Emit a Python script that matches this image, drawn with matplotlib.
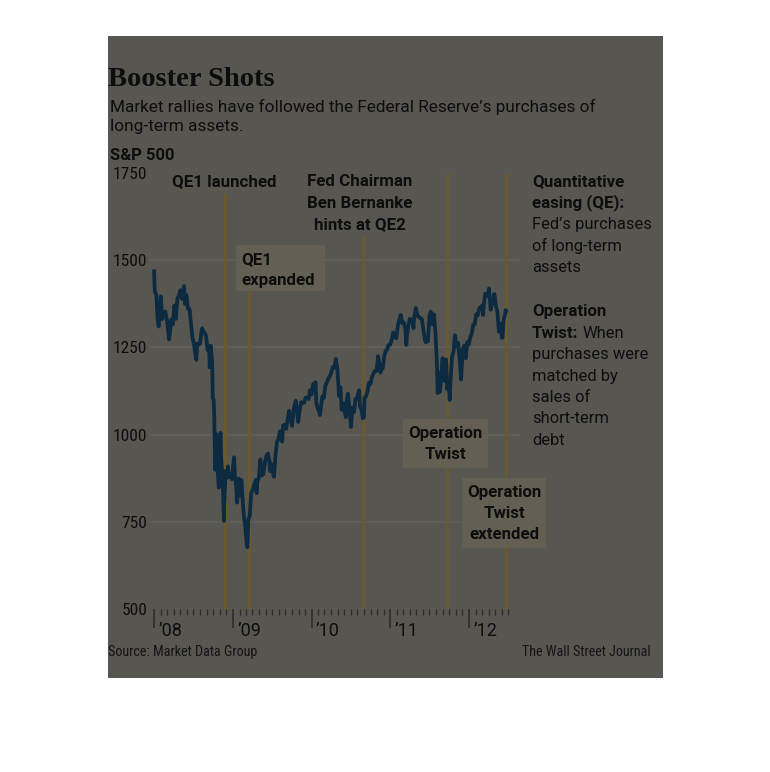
import matplotlib
matplotlib.use("Agg")
import matplotlib.pyplot as plt
from matplotlib.patches import Rectangle
from matplotlib import font_manager
import pandas as pd
import numpy as np

# ---------------- data ----------------
dates = [
"2008-01-01","2008-01-04","2008-01-11","2008-01-18","2008-01-22","2008-01-25","2008-02-01","2008-02-08","2008-02-15","2008-02-22","2008-02-29",
"2008-03-07","2008-03-10","2008-03-14","2008-03-20","2008-03-28","2008-04-04","2008-04-11","2008-04-18","2008-04-25","2008-05-02","2008-05-09",
"2008-05-19","2008-05-23","2008-05-30","2008-06-06","2008-06-13","2008-06-20","2008-06-27","2008-07-03","2008-07-15","2008-07-18","2008-07-25",
"2008-08-01","2008-08-08","2008-08-11","2008-08-15","2008-08-22","2008-08-29","2008-09-05","2008-09-12","2008-09-15","2008-09-19","2008-09-26",
"2008-09-29","2008-10-03","2008-10-06","2008-10-10","2008-10-13","2008-10-17","2008-10-24","2008-10-27","2008-10-31","2008-11-04","2008-11-07",
"2008-11-14","2008-11-20","2008-11-21","2008-11-28","2008-12-05","2008-12-08","2008-12-12","2008-12-19","2008-12-26",
"2009-01-06","2009-01-09","2009-01-16","2009-01-20","2009-01-23","2009-01-28","2009-01-30","2009-02-06","2009-02-09","2009-02-13","2009-02-20",
"2009-02-27","2009-03-06","2009-03-09","2009-03-13","2009-03-20","2009-03-26","2009-04-03","2009-04-09","2009-04-17","2009-04-20","2009-04-24",
"2009-05-01","2009-05-08","2009-05-15","2009-05-22","2009-05-29","2009-06-05","2009-06-12","2009-06-19","2009-06-23","2009-06-26","2009-07-02",
"2009-07-10","2009-07-17","2009-07-24","2009-07-31","2009-08-07","2009-08-14","2009-08-17","2009-08-21","2009-08-28","2009-09-04","2009-09-11",
"2009-09-18","2009-09-25","2009-10-02","2009-10-09","2009-10-19","2009-10-23","2009-10-30","2009-11-06","2009-11-13","2009-11-20","2009-11-27",
"2009-12-04","2009-12-11","2009-12-18","2009-12-24","2009-12-31",
"2010-01-08","2010-01-19","2010-01-22","2010-01-29","2010-02-05","2010-02-08","2010-02-12","2010-02-19","2010-02-26","2010-03-05","2010-03-12",
"2010-03-19","2010-03-26","2010-04-02","2010-04-09","2010-04-16","2010-04-23","2010-04-30","2010-05-06","2010-05-07","2010-05-14","2010-05-20",
"2010-05-21","2010-05-28","2010-06-04","2010-06-08","2010-06-11","2010-06-18","2010-06-25","2010-07-02","2010-07-09","2010-07-16","2010-07-23",
"2010-07-30","2010-08-06","2010-08-09","2010-08-13","2010-08-20","2010-08-26","2010-08-31","2010-09-03","2010-09-10","2010-09-17","2010-09-24",
"2010-10-01","2010-10-08","2010-10-15","2010-10-22","2010-10-29","2010-11-05","2010-11-12","2010-11-16","2010-11-19","2010-11-26","2010-12-03",
"2010-12-10","2010-12-17","2010-12-23","2010-12-31",
"2011-01-07","2011-01-14","2011-01-21","2011-01-28","2011-02-04","2011-02-11","2011-02-18","2011-02-25","2011-03-04","2011-03-11","2011-03-16",
"2011-03-18","2011-03-25","2011-04-01","2011-04-08","2011-04-15","2011-04-18","2011-04-21","2011-04-29","2011-05-06","2011-05-13","2011-05-20",
"2011-05-27","2011-06-03","2011-06-10","2011-06-15","2011-06-17","2011-06-24","2011-07-01","2011-07-07","2011-07-15","2011-07-22","2011-07-29",
"2011-08-05","2011-08-08","2011-08-10","2011-08-12","2011-08-19","2011-08-26","2011-08-31","2011-09-02","2011-09-09","2011-09-16","2011-09-22",
"2011-09-23","2011-09-30","2011-10-03","2011-10-07","2011-10-14","2011-10-21","2011-10-27","2011-11-04","2011-11-11","2011-11-18","2011-11-25",
"2011-12-02","2011-12-09","2011-12-16","2011-12-23","2011-12-30",
"2012-01-06","2012-01-13","2012-01-20","2012-01-27","2012-02-03","2012-02-10","2012-02-17","2012-02-24","2012-03-02","2012-03-06","2012-03-09",
"2012-03-16","2012-03-23","2012-03-30","2012-04-02","2012-04-10","2012-04-13","2012-04-20","2012-04-27","2012-05-04","2012-05-11","2012-05-18",
"2012-05-25","2012-06-01","2012-06-04","2012-06-08","2012-06-15","2012-06-19","2012-06-20",
]
sp500 = [
1468,1411,1401,1325,1310,1331,1396,1331,1350,1353,1331,
1294,1273,1288,1330,1316,1370,1332,1390,1398,1414,1389,
1426,1375,1400,1361,1360,1318,1278,1262,1214,1261,1257,
1261,1296,1305,1298,1292,1283,1242,1252,1193,1255,1213,
1106,1099,1056,899,1003,940,877,848,968,1005,930,
873,752,800,896,876,909,879,887,872,
935,890,850,805,832,874,826,869,870,827,770,
735,683,677,756,768,833,843,857,870,832,866,
877,929,883,887,919,940,946,921,895,918,896,
879,940,979,987,1010,1005,980,1026,1029,1016,1042,
1068,1044,1025,1072,1097,1080,1036,1069,1093,1091,1091,
1106,1106,1102,1127,1115,
1145,1150,1092,1074,1066,1056,1075,1109,1105,1139,1150,
1160,1167,1179,1194,1192,1217,1187,1128,1111,1136,1071,
1088,1089,1064,1050,1092,1117,1076,1022,1078,1065,1102,
1102,1122,1127,1079,1071,1047,1049,1105,1110,1125,1149,
1146,1166,1176,1183,1183,1225,1199,1178,1199,1189,1225,
1240,1244,1257,1258,
1271,1293,1283,1276,1310,1329,1343,1320,1321,1304,1257,
1279,1313,1332,1328,1320,1305,1337,1363,1340,1338,1333,
1331,1300,1271,1265,1271,1268,1339,1353,1316,1345,1292,
1199,1119,1121,1178,1123,1176,1219,1174,1154,1216,1130,
1136,1131,1099,1155,1224,1238,1285,1253,1263,1216,1158,
1244,1255,1219,1265,1258,
1278,1289,1315,1316,1345,1342,1361,1366,1370,1343,1371,
1404,1397,1408,1419,1358,1370,1378,1403,1369,1353,1295,
1318,1278,1278,1325,1343,1357,1355,
]

y_ticks = [500, 750, 1000, 1250, 1500, 1750]
grid_values = [750, 1000, 1250, 1500]
year_ticks = ["2008-01-01", "2009-01-01", "2010-01-01", "2011-01-01", "2012-01-01"]
year_labels = ["\u201908", "\u201909", "\u201910", "\u201911", "\u201912"]

event_dates = ["2008-11-25", "2009-03-18", "2010-08-27", "2011-09-21", "2012-06-20"]
event_tops = [1693, 1409, 1572, 1750, 1750]

title = "Booster Shots"
subtitle = ["Market rallies have followed the Federal Reserve\u2019s purchases of",
            "long-term assets."]

# ---------------- fonts ----------------
available = {f.name for f in font_manager.fontManager.ttflist}
def pick(*names):
    for n in names:
        if n in available:
            return n
    return "DejaVu Sans"

SANS = pick("Liberation Sans Narrow", "Roboto Condensed", "Roboto", "DejaVu Sans")
SANSB = pick("Roboto", "Open Sans", "DejaVu Sans")
SERIF = pick("Liberation Serif", "DejaVu Serif")

BG = "#585651"
BOXC = "#636053"
EVC = "#6b5a2c"
LINEC = "#0c2a40"
GRIDC = "#61605d"
TXT = "#0d0d0d"

W, H = 770, 772
fig = plt.figure(figsize=(W / 100, H / 100), dpi=100)
fig.patch.set_facecolor("white")

def fx(x): return x / W
def fy(y): return 1 - y / H

fig.patches.append(Rectangle((fx(108), fy(678)), fx(663) - fx(108), fy(36) - fy(678),
                             transform=fig.transFigure, facecolor=BG, edgecolor="none", zorder=-5))

ax = fig.add_axes([fx(150), fy(609), fx(520) - fx(150), fy(173) - fy(609)])
ax.set_facecolor("none")
for s in ax.spines.values():
    s.set_visible(False)

d = pd.to_datetime(dates)
ax.set_xlim(pd.Timestamp("2007-12-13"), pd.Timestamp("2012-08-24"))
ax.set_ylim(500, 1750)

for v in grid_values:
    ax.axhline(v, color=GRIDC, lw=1.2, zorder=1)

for ed, top in zip(event_dates, event_tops):
    ax.plot([pd.Timestamp(ed)] * 2, [500, top], color=EVC, lw=2.0, zorder=2, solid_capstyle="butt")

ax.plot(d, sp500, color=LINEC, lw=2.7, zorder=3, solid_joinstyle="round")

ax.set_yticks(y_ticks)
ax.set_yticklabels([str(v) for v in y_ticks], fontsize=12.5, family=SANS, color=TXT)
ax.tick_params(axis="y", length=0, pad=2)

ax.set_xticks(pd.to_datetime(year_ticks))
minor = pd.date_range("2008-02-01", "2012-07-01", freq="MS")
minor = [m for m in minor if m.month != 1]
ax.set_xticks(minor, minor=True)
ax.set_xticklabels([])
ax.tick_params(axis="x", which="major", length=14, width=1.2, color="#2e2e2e", direction="out")
ax.tick_params(axis="x", which="minor", length=4.5, width=1.0, color="#2e2e2e", direction="out")
for yt, lab in zip(year_ticks, year_labels):
    ax.annotate(lab, xy=(pd.Timestamp(yt), 0), xycoords=("data", "axes fraction"),
                xytext=(3, -9), textcoords="offset points", ha="left", va="top",
                fontsize=13, family=SANSB, color=TXT)

# ---------------- texts ----------------
def t(x, y, s, **kw):
    kw.setdefault("color", TXT)
    kw.setdefault("va", "baseline")
    return fig.text(fx(x), fy(y), s, **kw)

t(108, 86, title, family=SERIF, fontsize=20.5, weight="bold")
t(110, 112, subtitle[0], family=SANSB, fontsize=12.4)
t(110, 131, subtitle[1], family=SANSB, fontsize=12.4)
t(110, 160, "S&P 500", family=SANSB, fontsize=12, weight="bold")

BS = 12.2
RS = 11.9
t(224, 186, "QE1 launched", family=SANSB, fontsize=BS, weight="bold", ha="center")
for i, s in enumerate(["Fed Chairman", "Ben Bernanke", "hints at QE2"]):
    t(360, 186 + i * 21.5, s, family=SANSB, fontsize=BS, weight="bold", ha="center")

right = [("Quantitative", "bold"), ("easing (QE):", "bold"), ("Fed\u2019s purchases", "normal"),
         ("of long-term", "normal"), ("assets", "normal")]
for i, (s, w) in enumerate(right):
    t(532, 186 + i * 21.5, s, family=SANSB, fontsize=BS if w == "bold" else RS, weight=w)
t(532, 316, "Operation", family=SANSB, fontsize=BS, weight="bold")
tw = t(532, 337.5, "Twist:", family=SANSB, fontsize=BS, weight="bold")
fig.canvas.draw()
bb = tw.get_window_extent()
fig.text(bb.x1 / W + 4 / W, fy(337.5), "When", family=SANSB, fontsize=RS, color=TXT, va="baseline")
for i, s in enumerate(["purchases were", "matched by", "sales of", "short-term", "debt"]):
    t(532, 359 + i * 21.5, s, family=SANSB, fontsize=RS)

# boxes with labels
boxes = [
    (236, 245, 325, 291, ["QE1", "expanded"], "left", 241),
    (403, 419, 488, 468, ["Operation", "Twist"], "center", 445.5),
    (462, 478, 546, 548, ["Operation", "Twist", "extended"], "center", 504),
]
for x0, y0, x1, y1, lines, ha, xt in boxes:
    fig.patches.append(Rectangle((fx(x0), fy(y1)), fx(x1) - fx(x0), fy(y0) - fy(y1),
                                 transform=fig.transFigure, facecolor=BOXC, edgecolor="none", zorder=2))
    for i, s in enumerate(lines):
        t(xt, y0 + 19 + i * 21, s, family=SANSB, fontsize=BS, weight="bold", ha=ha)

t(108, 656, "Source: Market Data Group", family=SANS, fontsize=10.2, color="#141414")
t(651, 656, "The Wall Street Journal", family=SANS, fontsize=10.2, color="#141414", ha="right")

fig.savefig("out.png", dpi=100, facecolor="white")
